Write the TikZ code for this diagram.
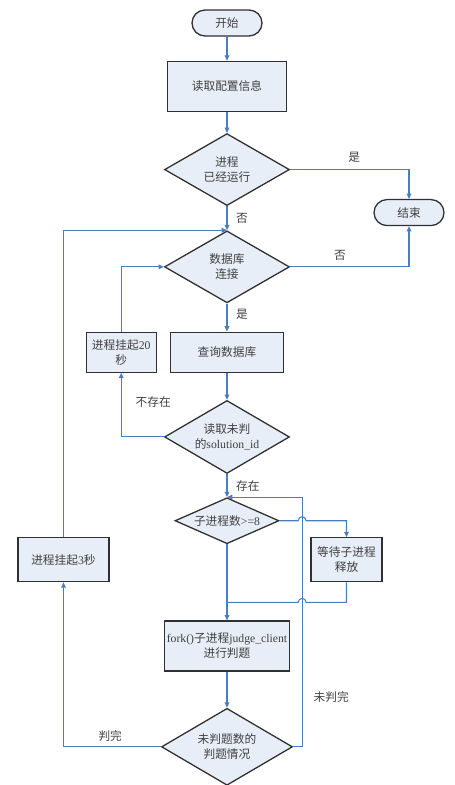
\documentclass[tikz,border=0pt]{standalone}
\usepackage{fontspec}
\setmainfont{Liberation Serif}
\newfontfamily\cjk{Noto Sans CJK SC}
\usepackage{tikz}
\usepackage{xcolor}
\usetikzlibrary{
    positioning,    % For relative node placement (below=of, etc.)
    arrows.meta,    % For arrow tips
    shapes.geometric,% For diamond decisions
    calc            % For coordinate calculations
}
\definecolor{boxfill}{RGB}{232, 238, 247}
\definecolor{flowblue}{RGB}{74, 126, 193}
\definecolor{boxline}{RGB}{48, 48, 48}
\definecolor{textgray}{RGB}{64, 64, 64}
\newcommand{\en}[1]{{\rmfamily #1}} % Latin parts in serif

\begin{document}
\begin{tikzpicture}[
    >={Triangle[length=4.5pt, width=4pt]}, % Default arrow tip style
    % Styles
    term_box/.style={ % Style for start/end
        rectangle,
        rounded corners=0.39cm,
        draw=boxline,
        line width=1.1pt,
        fill=boxfill,
        minimum width=2.1cm,
        minimum height=0.78cm,
        text=textgray,
        font=\cjk\fontsize{10}{13}\selectfont
    },
    proc_box/.style={ % Style for process boxes
        rectangle,
        draw=boxline,
        line width=1.1pt,
        fill=boxfill,
        inner xsep=1pt,
        text centered,
        align=center,
        text=textgray,
        font=\cjk\fontsize{10}{13}\selectfont
    },
    decision/.style={ % Style for diamonds
        diamond,
        aspect=1.74,
        draw=boxline,
        line width=1.1pt,
        fill=boxfill,
        inner sep=0pt,
        minimum width=3.75cm,
        minimum height=2.16cm,
        align=center,
        text=textgray,
        font=\cjk\fontsize{10}{13}\selectfont
    },
    flow/.style={
        ->, draw=flowblue, line width=0.9pt
    },
    plain_flow/.style={
        draw=flowblue, line width=0.9pt
    },
    label_text/.style={ % Style for branch labels
        text=textgray,
        font=\cjk\fontsize{10}{13}\selectfont
    }
]
\useasboundingbox (-6.81,0.69) rectangle (6.81,-22.86);

% --- Main column ---
\node[term_box] (start) {开始};
\node[proc_box, minimum width=3.57cm, minimum height=1.5cm, below=0.72cm of start] (config) {读取配置信息};
\node[decision, below=0.63cm of config] (running) {进程\\已经运行};
\node[decision, below=0.72cm of running] (dbconn) {数据库\\连接};
\node[proc_box, minimum width=3.39cm, minimum height=1.2cm, below=0.84cm of dbconn] (query) {查询数据库};
\node[decision, minimum height=2.19cm, below=0.81cm of query] (fetch) {读取未判\\的\en{solution\_id}};
\node[decision, aspect=2.26, minimum width=3.12cm, minimum height=1.38cm, below=0.69cm of fetch] (childnum) {子进程数\en{>=8}};
\node[proc_box, minimum width=3.75cm, minimum height=1.5cm, below=2.28cm of childnum] (fork) {\en{fork()}子进程\en{judge\_client}\\进行判题};
\node[decision, aspect=1.7, minimum width=3.93cm, minimum height=2.31cm, below=1.08cm of fork] (status) {未判题数的\\判题情况};

% --- Side nodes ---
\node[term_box] (stop) at ($(running)+(5.46,-1.29)$) {结束};
\node[proc_box, minimum width=2.1cm, minimum height=1.2cm, left=0.39cm of query] (sleep20) {进程挂起\en{20}\\秒};
\node[proc_box, minimum width=2.13cm, minimum height=1.32cm] (waitchild) at ($(childnum)+(3.585,-1.17)$) {等待子进程\\释放};
\node[proc_box, minimum width=2.73cm, minimum height=1.32cm] (sleep3) at ($(childnum)+(-4.905,-1.17)$) {进程挂起\en{3}秒};

% Helper coordinates
\coordinate (loopx) at ($(status.east)+(0.27,0)$);
\coordinate (join) at ($(fork.north)+(0,0.54)$);

% --- Connectors ---
\draw[flow] (start) -- (config);
\draw[flow] (config) -- (running);
\draw[flow] (running.east) -| node[pos=0.27, above=2pt, label_text] {是} (stop.north);
\draw[flow] (running.south) -- node[midway, right=4pt, label_text] {否} (dbconn.north);
\draw[flow] (dbconn.east) -| node[pos=0.21, above=2pt, label_text] {否} (stop.south);
\draw[flow] (dbconn.south) -- node[pos=0.4, right=4pt, label_text] {是} (query.north);
\draw[flow] (query) -- (fetch);
\draw[flow] (fetch.west) -| node[pos=0.77, right=0.3cm, label_text] {不存在} (sleep20.south);
\draw[flow] (sleep20.north) |- (dbconn.west);
\draw[flow] (fetch.south) -- node[midway, right=4pt, label_text] {存在} (childnum.north);

% Full check: wait for a child, hop over the return line
\draw[flow] (childnum.east) -- ($(childnum.east -| loopx)+(-0.12,0)$) arc[start angle=180, end angle=0, radius=0.12] -- (childnum.east -| waitchild.north) -- (waitchild.north);
\draw[plain_flow] (waitchild.south) -- (waitchild.south |- join) -- ($(join -| loopx)+(0.12,0)$) arc[start angle=0, end angle=180, radius=0.12] -- (join);
\draw[flow] (childnum.south) -- (fork.north);
\draw[flow] (fork) -- (status);

% Loop back
\draw[flow] (status.east) -- (loopx) -- node[pos=0.2, right=6pt, label_text] {未判完} (loopx |- childnum.north) -- (childnum.north);
\draw[flow] (status.west) -| node[pos=0.26, above=1pt, label_text] {判完} (sleep3.south);
\draw[flow] (sleep3.north) |- (dbconn.north);

\end{tikzpicture}
\end{document}
